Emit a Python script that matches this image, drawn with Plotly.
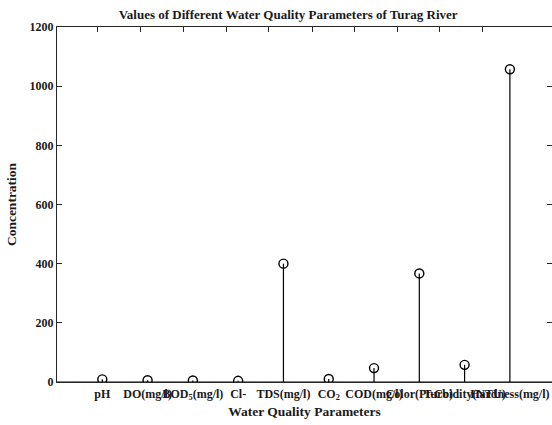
import plotly.graph_objects as go

# Water quality readings for the Turag River
parameters = ["pH", "DO(mg/l)", "BOD<sub>5</sub>(mg/l)", "Cl-", "TDS(mg/l)",
              "CO<sub>2</sub>", "COD(mg/l)", "Color(Pt-Co)", "Turbidity(NTU)",
              "Hardness(mg/l)"]
values = [9, 6, 5, 4, 400, 10, 47, 367, 58, 1057]
positions = list(range(1, len(values) + 1))

# top-edge tick locations of the box
top_ticks = [0.904, 1.853, 2.786, 3.749, 4.676, 5.632, 6.559, 7.514, 8.455, 9.39]
y_ticks = [0, 200, 400, 600, 800, 1000, 1200]

AX = "#262626"
FONT = "Liberation Serif"
x_range = [0, 10.93]
y_range = [0, 1200]

# vertical stems from baseline to each value
stem_x, stem_y = [], []
for p, v in zip(positions, values):
    stem_x += [p, p, None]
    stem_y += [0, v, None]

fig = go.Figure()
fig.add_trace(go.Scatter(x=stem_x, y=stem_y, mode="lines",
                         line=dict(color="black", width=1.2),
                         hoverinfo="skip", showlegend=False))
# baseline
fig.add_trace(go.Scatter(x=x_range, y=[0, 0], mode="lines",
                         line=dict(color="black", width=1.2),
                         hoverinfo="skip", showlegend=False))
fig.add_trace(go.Scatter(x=positions, y=values, mode="markers",
                         marker=dict(symbol="circle-open", size=9,
                                     color="black", line=dict(width=1.4)),
                         showlegend=False))
# invisible trace to carry the top/right box axes
fig.add_trace(go.Scatter(x=[None], y=[None], xaxis="x2", yaxis="y2",
                         mode="markers", showlegend=False, hoverinfo="skip"))

fig.update_layout(
    width=552, height=425,
    margin=dict(l=57, r=0, t=27, b=43),
    plot_bgcolor="white", paper_bgcolor="white",
    font=dict(family=FONT, color="#1a1a1a", size=11),
    title=dict(text="<b>Values of Different Water Quality Parameters of Turag River</b>",
               x=0.522, xanchor="center", y=0.967, yanchor="middle",
               font=dict(family=FONT, size=13, color="#1a1a1a")),
    xaxis=dict(range=x_range, tickvals=positions, ticktext=[f"<b>{t}</b>" for t in parameters],
               tickangle=0, automargin=False,
               ticks="", showline=True, linecolor=AX, linewidth=1.2,
               showgrid=False, zeroline=False, tickfont=dict(size=12),
               title=dict(text="<b>Water Quality Parameters</b>", standoff=5,
                          font=dict(size=13.5))),
    yaxis=dict(range=y_range, tickvals=y_ticks, ticktext=[f"<b>{t}</b>" for t in y_ticks],
               automargin=False,
               ticks="inside", ticklen=5, tickcolor=AX, showline=True,
               linecolor=AX, linewidth=1.2, showgrid=False, zeroline=False,
               tickfont=dict(size=12),
               title=dict(text="<b>Concentration</b>", standoff=9,
                          font=dict(size=13.5))),
    xaxis2=dict(range=x_range, overlaying="x", side="top", anchor="y",
                tickvals=top_ticks, ticks="inside", ticklen=5, tickcolor=AX,
                showticklabels=False, showline=True, linecolor=AX,
                linewidth=1.2, showgrid=False, zeroline=False, automargin=False),
    yaxis2=dict(range=y_range, overlaying="y", side="right", anchor="x",
                tickvals=y_ticks, ticks="inside", ticklen=5, tickcolor=AX,
                showticklabels=False, showline=False, showgrid=False,
                zeroline=False, automargin=False),
)

fig.write_html("out.html")
